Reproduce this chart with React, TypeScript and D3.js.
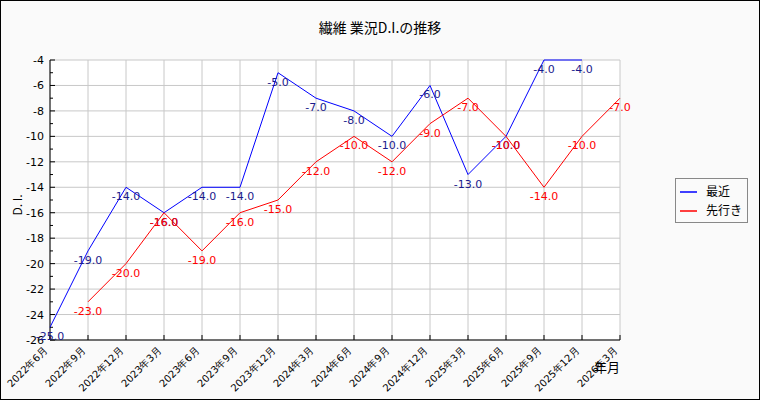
import React from "react";
import * as d3 from "d3";

const categories = [
  "2022年6月", "2022年9月", "2022年12月", "2023年3月", "2023年6月", "2023年9月",
  "2023年12月", "2024年3月", "2024年6月", "2024年9月", "2024年12月", "2025年3月",
  "2025年6月", "2025年9月", "2025年12月", "2026年3月",
];
const recent: (number | null)[] = [-25, -19, -14, -16, -14, -14, -5, -7, -8, -10, -6, -13, -10, -4, -4, null];
const outlook: (number | null)[] = [null, -23, -20, -16, -19, -16, -15, -12, -10, -12, -9, -7, -10, -14, -10, -7];
const yTicks = [-4, -6, -8, -10, -12, -14, -16, -18, -20, -22, -24, -26];
const seriesNames = ["最近", "先行き"];

const W = 760, H = 400;
const left = 50, right = 620, top = 60, bottom = 340;

export default function App() {
  const x = d3.scalePoint<string>().domain(categories).range([left, right]);
  const y = d3.scaleLinear().domain([-26, -4]).range([bottom, top]);
  const minor = d3.range(-25, -4, 2);
  const line = d3
    .line<number | null>()
    .defined((d) => d !== null)
    .x((_, i) => x(categories[i]) as number)
    .y((d) => y(d as number));

  const series = [
    { name: seriesNames[0], data: recent, color: "#0000ff", label: "#1a1a8c" },
    { name: seriesNames[1], data: outlook, color: "#ff0000", label: "#ff0000" },
  ];
  const font = "DejaVu Sans, sans-serif";

  return (
    <div style={{ position: "fixed", left: 0, top: 0 }}>
      <svg width={W} height={H} style={{ display: "block" }}>
        <rect x={0.5} y={0.5} width={W - 1} height={H - 1} fill="#fafafa" stroke="#000" />
        <rect x={left} y={top} width={right - left} height={bottom - top} fill="#fff" />
        <text x={380} y={33} textAnchor="middle" fontFamily="Noto Sans CJK JP" fontSize={14} fill="#000">
          繊維 業況D.I.の推移
        </text>
        {/* grid */}
        {categories.map((c) => (
          <line key={c} x1={x(c)} x2={x(c)} y1={top} y2={bottom} stroke="#c8c8c8" />
        ))}
        {yTicks.map((t) => (
          <line key={t} x1={left} x2={right} y1={y(t)} y2={y(t)} stroke="#c8c8c8" />
        ))}
        {/* axes */}
        <line x1={left} x2={left} y1={top} y2={bottom} stroke="#000" />
        <line x1={left} x2={right} y1={bottom} y2={bottom} stroke="#000" />
        {yTicks.map((t) => (
          <g key={"yt" + t}>
            <line x1={left} x2={left + 5} y1={y(t)} y2={y(t)} stroke="#000" />
            <text x={left - 6} y={y(t) + 4} textAnchor="end" fontFamily={font} fontSize={11} fill="#000">
              {t}
            </text>
          </g>
        ))}
        {minor.map((t) => (
          <line key={"m" + t} x1={left} x2={left + 3} y1={y(t)} y2={y(t)} stroke="#000" />
        ))}
        {categories.map((c) => (
          <g key={"xt" + c}>
            <line x1={x(c)} x2={x(c)} y1={bottom} y2={bottom - 5} stroke="#000" />
            <text
              transform={`translate(${(x(c) as number) - 4},${bottom + 9}) rotate(-45)`}
              textAnchor="end"
              dominantBaseline="middle"
              fontFamily={font}
              fontSize={10}
              fill="#000"
            >
              {c}
            </text>
          </g>
        ))}
        <text x={620} y={372} textAnchor="end" fontFamily="Noto Sans CJK JP" fontSize={13} fill="#000">
          年月
        </text>
        <text
          transform={`translate(22,205) rotate(-90)`}
          textAnchor="middle"
          fontFamily="Noto Sans CJK JP"
          fontSize={12}
          fill="#000"
        >
          D. I.
        </text>
        {/* lines */}
        {series.map((s) => (
          <path key={s.name} d={line(s.data) || ""} fill="none" stroke={s.color} strokeWidth={1} />
        ))}
        {series.map((s) =>
          s.data.map((v, i) =>
            v === null ? null : (
              <text
                key={s.name + i}
                x={x(categories[i])}
                y={y(v) + 13}
                textAnchor="middle"
                fontFamily={font}
                fontSize={11}
                fill={s.label}
              >
                {v.toFixed(1)}
              </text>
            )
          )
        )}
        {/* legend */}
        <rect x={675.5} y={178.5} width={72} height={44} fill="#fafafa" stroke="#888" />
        {series.map((s, i) => (
          <g key={"lg" + s.name}>
            <line x1={680} x2={697} y1={192 + i * 19} y2={192 + i * 19} stroke={s.color} strokeWidth={1.5} />
            <text x={706} y={196 + i * 19} fontFamily="Noto Sans CJK JP" fontSize={12} fill="#000">
              {s.name}
            </text>
          </g>
        ))}
      </svg>
    </div>
  );
}
